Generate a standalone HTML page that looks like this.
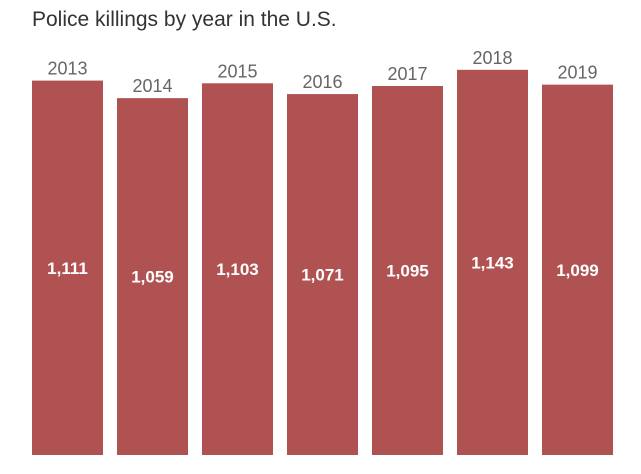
<!DOCTYPE html>
<html><head><meta charset="utf-8"><style>
body{margin:0;background:#fff;width:641px;height:474px;overflow:hidden;font-family:"Liberation Sans",sans-serif}
#title{position:absolute;left:32px;top:8px;font-size:21px;color:#333}
</style></head><body>
<div id="title">Police killings by year in the U.S.</div>
<svg id="chart" width="641" height="474" style="position:absolute;left:0;top:0"></svg>
<script>
const years=["2013","2014","2015","2016","2017","2018","2019"];
const counts=[1111,1059,1103,1071,1095,1143,1099];
const labels=["1,111","1,059","1,103","1,071","1,095","1,143","1,099"];
const svg=document.getElementById('chart');
const NS='http://www.w3.org/2000/svg';
const base=455,k=0.337,x0=32,step=85,bw=71;
const y=v=>base-v*k;
years.forEach((yr,i)=>{
  const x=x0+i*step,t=y(counts[i]);
  const r=document.createElementNS(NS,'rect');
  r.setAttribute('x',x);r.setAttribute('y',t);r.setAttribute('width',bw);r.setAttribute('height',base-t);
  r.setAttribute('fill','#b05252');
  
  
  svg.appendChild(r);
  const yl=document.createElementNS(NS,'text');
  yl.setAttribute('x',x+bw/2);yl.setAttribute('y',t-6);yl.setAttribute('text-anchor','middle');
  yl.setAttribute('font-size','18');yl.setAttribute('fill','#666');
  yl.textContent=yr;
  
  
  svg.appendChild(yl);
  const vl=document.createElementNS(NS,'text');
  vl.setAttribute('x',x+bw/2);vl.setAttribute('y',(t+base)/2+6);vl.setAttribute('text-anchor','middle');
  vl.setAttribute('font-size','17');vl.setAttribute('font-weight','bold');vl.setAttribute('fill','#fff');
  vl.textContent=labels[i];
  
  
  svg.appendChild(vl);
});
</script>
</body></html>
